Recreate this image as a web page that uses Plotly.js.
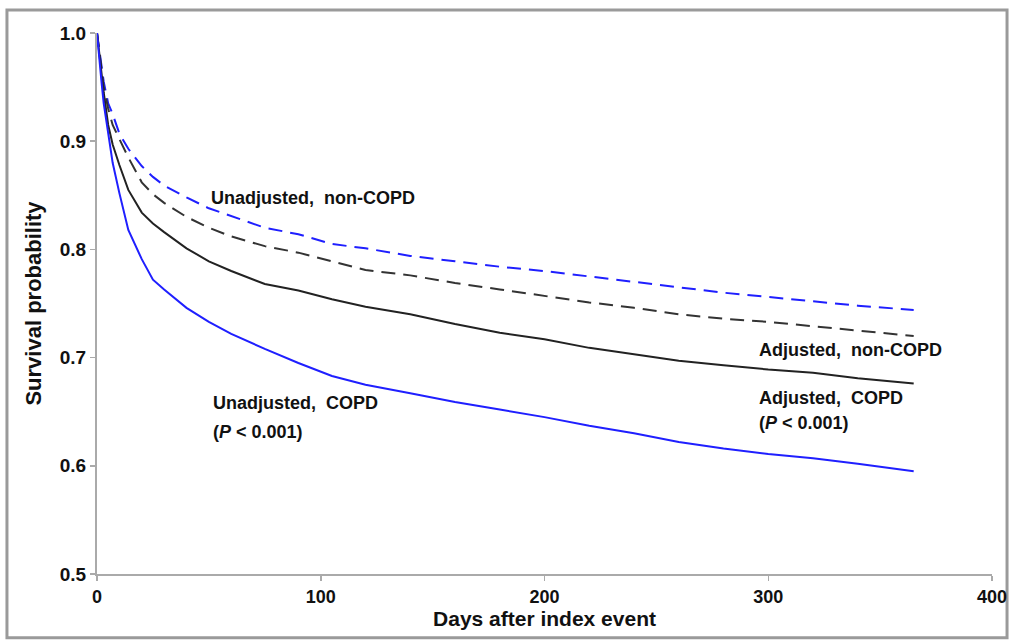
<!DOCTYPE html>
<html>
<head>
<meta charset="utf-8">
<script src="https://cdn.plot.ly/plotly-3.0.1.min.js"></script>
<style>
html,body{margin:0;padding:0;background:#fff;}
#chart{width:1013px;height:643px;}
</style>
</head>
<body>
<div id="chart"></div>
<script>
const days = [0,1,2,3,5,7,10,14,20,25,30,40,50,60,75,90,105,120,140,160,180,200,220,240,260,280,300,320,340,365];
const unadjCOPD = [1.0,0.975,0.955,0.935,0.905,0.88,0.852,0.818,0.791,0.772,0.763,0.746,0.733,0.722,0.708,0.695,0.683,0.675,0.667,0.659,0.652,0.645,0.637,0.630,0.622,0.616,0.611,0.607,0.602,0.595];
const adjCOPD = [1.0,0.98,0.96,0.945,0.915,0.897,0.878,0.855,0.834,0.824,0.816,0.801,0.789,0.780,0.768,0.762,0.754,0.747,0.740,0.731,0.723,0.717,0.709,0.703,0.697,0.693,0.689,0.686,0.681,0.676];
const adjNonCOPD = [1.0,0.985,0.965,0.95,0.93,0.915,0.902,0.885,0.862,0.851,0.843,0.830,0.820,0.812,0.803,0.797,0.789,0.781,0.776,0.769,0.763,0.757,0.751,0.746,0.740,0.736,0.733,0.729,0.725,0.720];
const unadjNonCOPD = [1.0,0.985,0.97,0.955,0.935,0.925,0.907,0.893,0.877,0.867,0.859,0.848,0.838,0.831,0.820,0.814,0.805,0.801,0.794,0.789,0.784,0.780,0.775,0.770,0.765,0.760,0.756,0.752,0.748,0.744];
const xTicks = [0,100,200,300,400];
const yTicks = [0.5,0.6,0.7,0.8,0.9,1.0];
const yTickText = ["0.5","0.6","0.7","0.8","0.9","1.0"];

const BLUE = '#1f1fff';
const traces = [
  {x: days, y: unadjNonCOPD, mode:'lines', line:{color:BLUE, width:2, dash:'14px,8px'}},
  {x: days, y: adjNonCOPD, mode:'lines', line:{color:'#333333', width:2, dash:'14px,8px'}},
  {x: days, y: adjCOPD, mode:'lines', line:{color:'#222222', width:2}},
  {x: days, y: unadjCOPD, mode:'lines', line:{color:BLUE, width:2}}
];

const F = 'Liberation Sans, Arial, sans-serif';
const ann = (x, y, text) => ({x:x, y:y, xref:'x', yref:'y', text:text, showarrow:false, xanchor:'left', align:'left',
  font:{family:F, size:18, color:'#111'}});

const layout = {
  width:1013, height:643,
  margin:{l:97, r:21, t:33, b:69},
  paper_bgcolor:'#fff', plot_bgcolor:'#fff',
  showlegend:false,
  xaxis:{range:[0,400], tickvals:xTicks, ticks:'outside', ticklen:5, tickcolor:'#aaa', tickwidth:1.5,
    showline:true, linecolor:'#aaa', linewidth:2, showgrid:false, zeroline:false,
    tickfont:{family:F, size:18, color:'#111', weight:'bold'},
    title:{text:'<b>Days after index event</b>', font:{family:F, size:21, color:'#111'}, standoff:1}},
  yaxis:{range:[0.5,1.0], tickvals:yTicks, ticktext:yTickText, ticks:'outside', ticklen:5, tickcolor:'#aaa', tickwidth:1.5,
    showline:true, linecolor:'#aaa', linewidth:2, showgrid:false, zeroline:false,
    tickfont:{family:F, size:19, color:'#111', weight:'bold'},
    title:{text:'<b>Survival probability</b>', font:{family:F, size:22, color:'#111'}, standoff:12}},
  annotations:[
    ann(50, 0.8475, '<b>Unadjusted,  non-COPD</b>'),
    ann(295, 0.707, '<b>Adjusted,  non-COPD</b>'),
    ann(295, 0.6627, '<b>Adjusted,  COPD</b>'),
    ann(295, 0.640, '<b>(<i>P</i> &lt; 0.001)</b>'),
    ann(51, 0.658, '<b>Unadjusted,  COPD</b>'),
    ann(51, 0.631, '<b>(<i>P</i> &lt; 0.001)</b>')
  ],
  shapes:[
    {type:'rect', xref:'paper', yref:'paper', x0:-0.1006, x1:1.0168, y0:-0.118, y1:1.0424,
     line:{color:'#9a9a9a', width:3}, layer:'below'}
  ]
};

Plotly.newPlot('chart', traces, layout, {displayModeBar:false, staticPlot:true});
</script>
</body>
</html>
